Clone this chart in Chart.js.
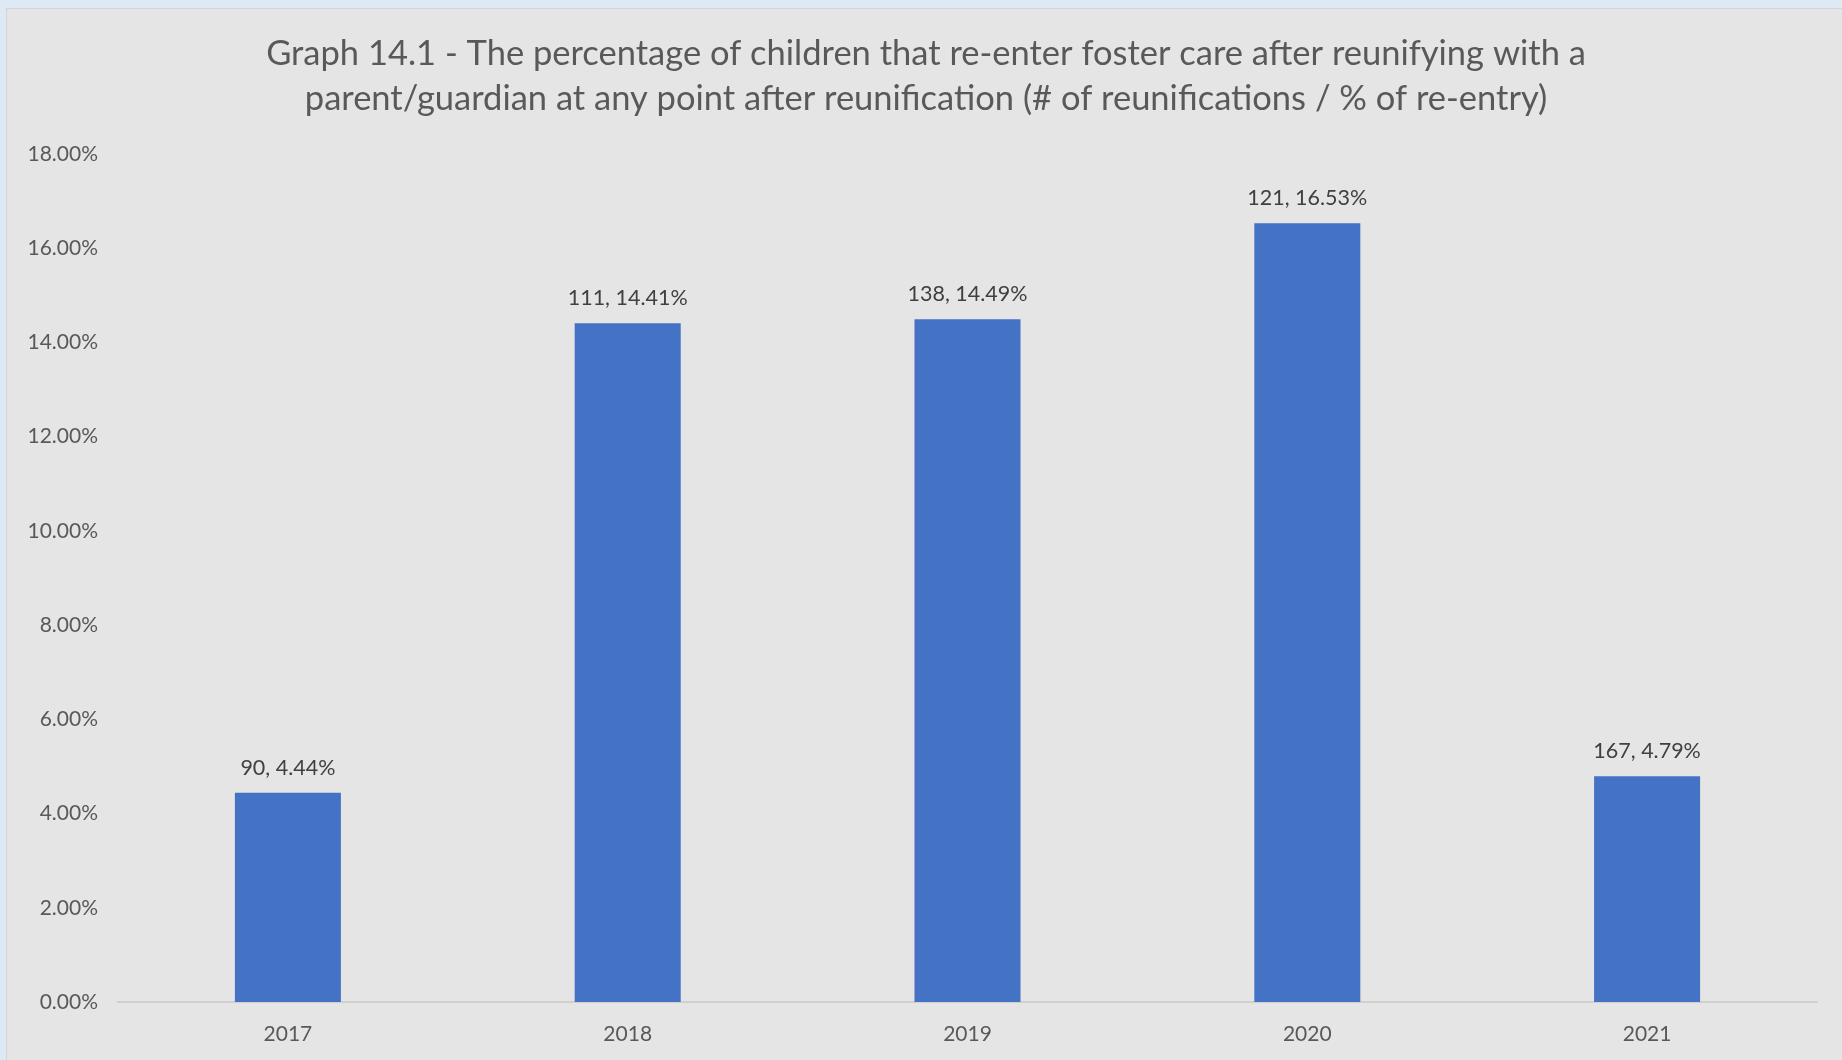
<!DOCTYPE html>
<html>
<head>
<meta charset="utf-8">
<title>Graph 14.1</title>
<script src="https://cdn.jsdelivr.net/npm/chart.js@4.4.1/dist/chart.umd.min.js"></script>
<style>
	html, body { margin: 0; padding: 0; background: #dde9f5; overflow: hidden; }
	#wrap {
		position: absolute; left: 6px; top: 8px;
		width: 1836px; height: 1052px;
		background: #e5e5e5;
		border-left: 1px solid #d4d4d4; border-top: 1px solid #d4d4d4;
		box-sizing: border-box;
	}
</style>
</head>
<body>
<div id="wrap"><canvas id="chart" width="1835" height="1051"></canvas></div>
<script>
// Re-entry after reunification, by year
var years = ['2017', '2018', '2019', '2020', '2021'];
var reunifications = [90, 111, 138, 121, 167];
var reentryPct = [4.44, 14.41, 14.49, 16.53, 4.79];

var titleLines = [
	'Graph 14.1 - The percentage of children that re-enter foster care after reunifying with a',
	'parent/guardian at any point after reunification (# of reunifications / % of re-entry)'
];

var FONT = "Lato, 'Open Sans', sans-serif";

// Title centred on the whole canvas, not on the padded chart box
var chartTitle = {
	id: 'chartTitle',
	afterDraw: function(chart) {
		var ctx = chart.ctx;
		ctx.save();
		ctx.font = '34.5px ' + FONT;
		ctx.fillStyle = '#595959';
		ctx.textAlign = 'center';
		ctx.textBaseline = 'middle';
		for (var i = 0; i < titleLines.length; i++) {
			ctx.fillText(titleLines[i], 919, 45 + i * 44.5);
		}
		ctx.restore();
	}
};

// Draws "count, pct%" above every bar
var barLabels = {
	id: 'barLabels',
	afterDatasetsDraw: function(chart) {
		var ctx = chart.ctx;
		var meta = chart.getDatasetMeta(0);
		ctx.save();
		ctx.font = '21.5px ' + FONT;
		ctx.fillStyle = '#404040';
		ctx.textAlign = 'center';
		ctx.textBaseline = 'middle';
		for (var i = 0; i < meta.data.length; i++) {
			var bar = meta.data[i];
			var text = reunifications[i] + ', ' + reentryPct[i].toFixed(2) + '%';
			ctx.fillText(text, bar.x, bar.y - 25);
		}
		ctx.restore();
	}
};

new Chart(document.getElementById('chart'), {
	type: 'bar',
	data: {
		labels: years,
		datasets: [{
			data: reentryPct,
			backgroundColor: '#4472c4',
			borderWidth: 0,
			categoryPercentage: 1,
			barPercentage: 0.312
		}]
	},
	options: {
		responsive: false,
		animation: false,
		layout: { padding: { left: 0, right: 25, top: 145, bottom: 0 } },
		plugins: {
			legend: { display: false },
			tooltip: { enabled: false },
			title: { display: false }
		},
		scales: {
			x: {
				grid: { display: false, drawTicks: false },
				border: { display: true, color: '#d0d0d0', width: 2 },
				ticks: { color: '#595959', font: { family: FONT, size: 21 }, padding: 20 },
				afterFit: function(scale) { scale.height = 58; }
			},
			y: {
				min: 0,
				max: 18,
				grid: { display: false, drawTicks: false },
				border: { display: false },
				ticks: {
					stepSize: 2,
					color: '#595959',
					font: { family: FONT, size: 21 },
					padding: 20,
					callback: function(v) { return v.toFixed(2) + '%'; }
				},
				afterFit: function(scale) { scale.width = 111; }
			}
		}
	},
	plugins: [barLabels, chartTitle]
});
</script>
</body>
</html>
